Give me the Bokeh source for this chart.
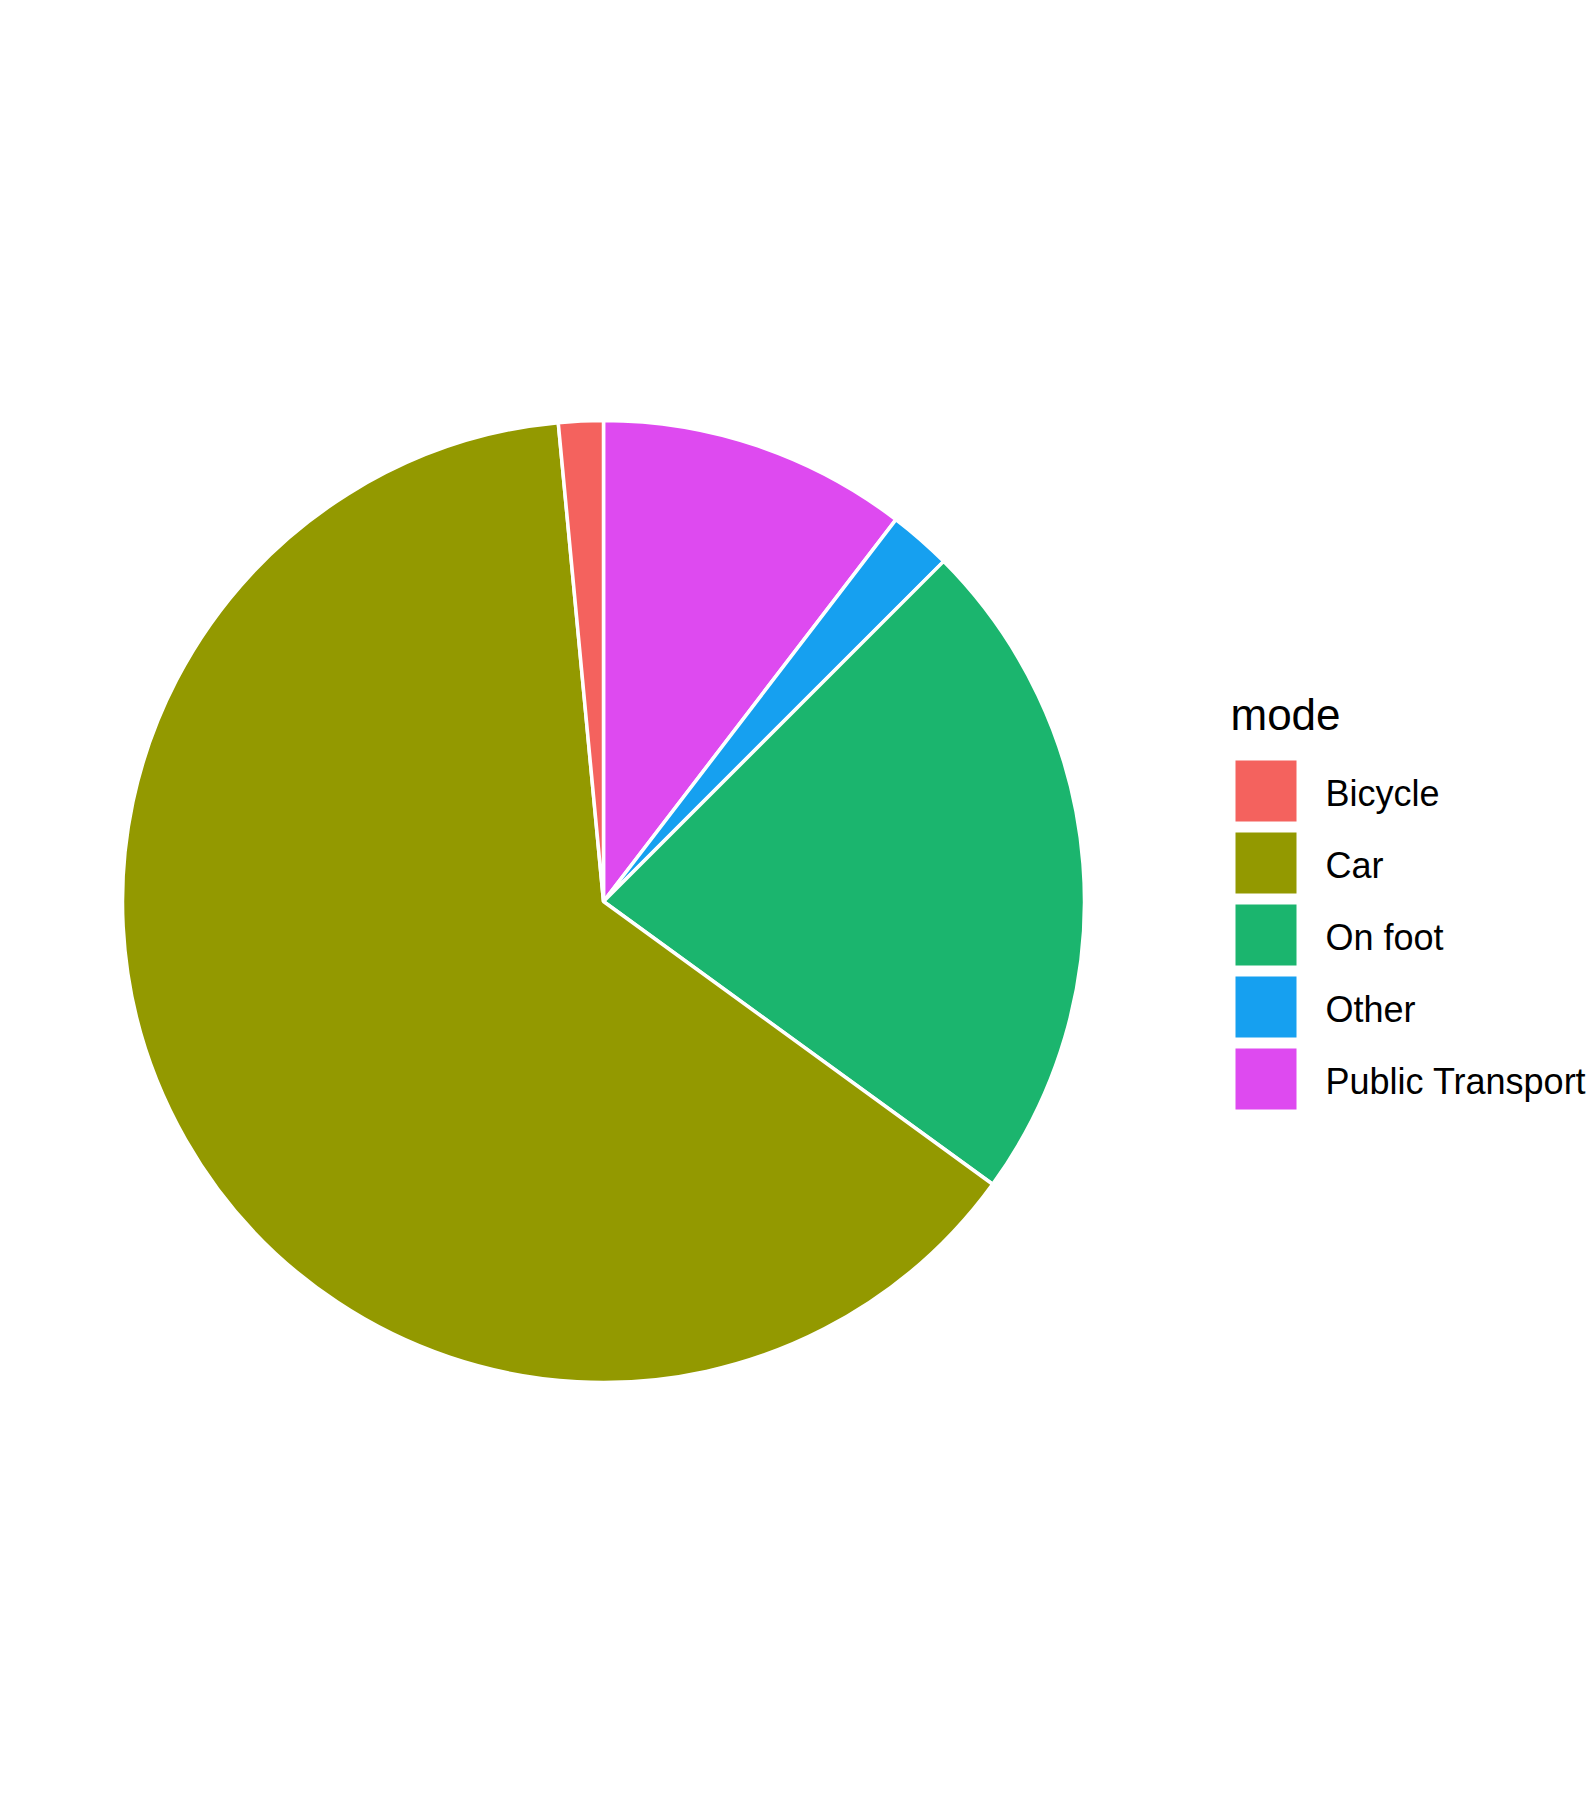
import numpy as np
from bokeh.plotting import figure
from bokeh.models import Range1d
from bokeh.core.properties import value
from bokeh.embed import file_html
from bokeh.resources import INLINE

# ---- data ----
modes = ["Bicycle", "Car", "On foot", "Other", "Public Transport"]
shares = [1.5, 63.5, 22.5, 2.1, 10.4]
colors = ["#F4625E", "#939900", "#1BB56E", "#16A0F0", "#DE4AF0"]
legend_title = "mode"

W, H = 1591, 1796
p = figure(width=W, height=H, x_range=Range1d(0, W), y_range=Range1d(0, H),
           output_backend="svg", toolbar_location=None, min_border=0)
p.axis.visible = False
p.grid.visible = False
p.outline_line_color = None
p.background_fill_color = "white"
p.border_fill_color = "white"

def py(ypix):  # figure pixel y (from top) -> data y
    return H - ypix

cx, cy, r = 603, py(901), 481

# clockwise from 12 o'clock, in reverse factor order (ggplot stacking)
order = list(reversed(range(len(modes))))
vals = np.array([shares[i] for i in order], dtype=float)
frac = vals / vals.sum()
ends = np.cumsum(frac) * 2 * np.pi
starts = ends - frac * 2 * np.pi
start_ang = np.pi / 2 - starts
end_ang = np.pi / 2 - ends
p.wedge(x=[cx] * len(order), y=[cy] * len(order), radius=r,
        start_angle=list(start_ang), end_angle=list(end_ang), direction="clock",
        fill_color=[colors[i] for i in order], line_color="white", line_width=3.5)

# ---- legend ----
font = value("Liberation Sans")
p.text(x=[1230], y=[py(714)], text=[legend_title], text_font=font,
       text_font_size="44px", text_color="black", text_baseline="alphabetic")
key = 61
pitch = 72
top0 = 760
kx = [1235 + key / 2] * len(modes)
ky = [py(top0 + i * pitch + key / 2) for i in range(len(modes))]
p.rect(x=kx, y=ky, width=key, height=key, fill_color=colors, line_color=None)
p.text(x=[1325] * len(modes), y=[py(top0 + i * pitch + key / 2 + 2.5) for i in range(len(modes))],
       text=modes, text_font=font, text_font_size="36px", text_color="black",
       text_baseline="alphabetic")

open("out.html", "w").write(file_html(p, INLINE))
